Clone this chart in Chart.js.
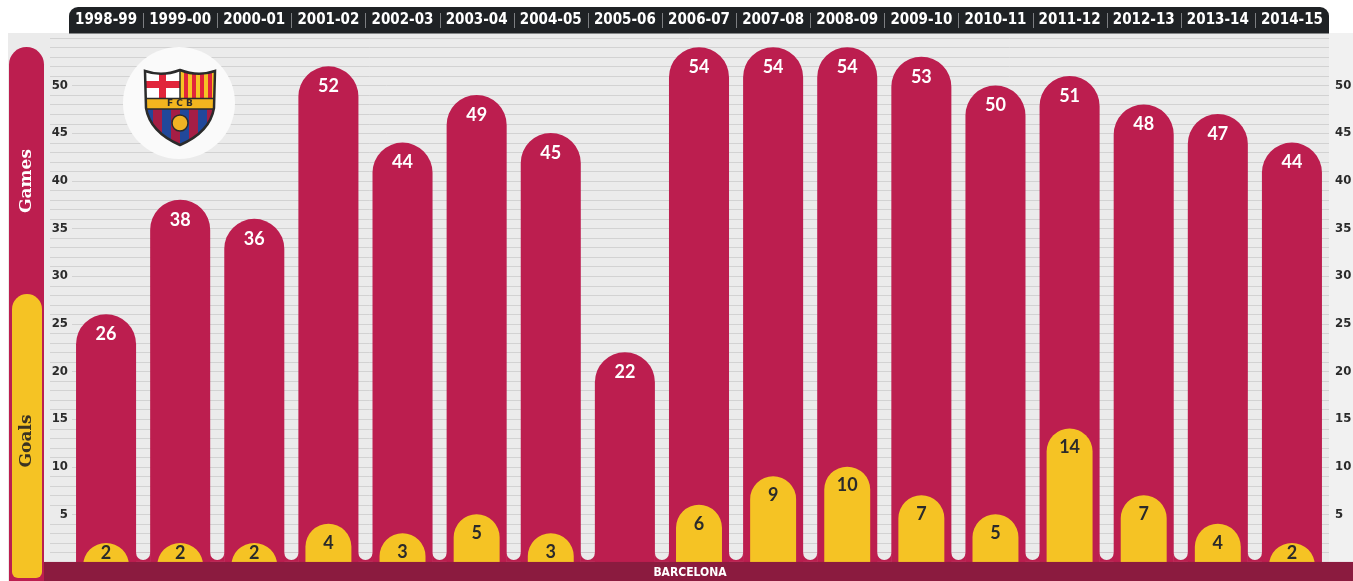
<!DOCTYPE html>
<html>
<head>
<meta charset="utf-8">
<title>Messi - Barcelona games and goals</title>
<script src="https://cdn.jsdelivr.net/npm/chart.js@4.4.1/dist/chart.umd.min.js"></script>
<style>
    html, body { margin: 0; padding: 0; background: #fff; overflow: hidden; }
    #wrap { width: 1353px; height: 581px; position: relative; }
</style>
</head>
<body>
<div id="wrap"><canvas id="careerChart"></canvas></div>
<script>
// --- data ---
const seasons = ['1998-99', '1999-00', '2000-01', '2001-02', '2002-03', '2003-04', '2004-05', '2005-06', '2006-07',
                 '2007-08', '2008-09', '2009-10', '2010-11', '2011-12', '2012-13', '2013-14', '2014-15'];
const games = [26, 38, 36, 52, 44, 49, 45, 22, 54, 54, 54, 53, 50, 51, 48, 47, 44];
const goals = [2, 2, 2, 4, 3, 5, 3, null, 6, 9, 10, 7, 5, 14, 7, 4, 2];
const yTicks = [5, 10, 15, 20, 25, 30, 35, 40, 45, 50];

const maroon = '#bc1e4f';
const bandColor = '#8b1b3f';
const yellow = '#f5c324';
const headerColor = '#1f2225';
const bgGray = '#ebebeb';
const condensed = '"DejaVu Sans Condensed", "Liberation Sans Narrow", sans-serif';

// simple FC Barcelona crest
function drawCrest(ctx, cx, top) {
    const s = new Path2D();
    s.moveTo(cx - 35, top + 1);
    s.quadraticCurveTo(cx - 18, top + 7, cx, top);
    s.quadraticCurveTo(cx + 18, top + 7, cx + 35, top + 1);
    s.lineTo(cx + 34, top + 38);
    s.quadraticCurveTo(cx + 30, top + 62, cx, top + 75);
    s.quadraticCurveTo(cx - 30, top + 62, cx - 34, top + 38);
    s.closePath();

    ctx.save();
    ctx.clip(s);
    ctx.fillStyle = '#fff';
    ctx.fillRect(cx - 36, top - 2, 36, 31);
    ctx.fillStyle = '#e1253b';
    ctx.fillRect(cx - 21, top - 2, 7, 31);
    ctx.fillRect(cx - 36, top + 11, 36, 7);
    ctx.fillStyle = yellow;
    ctx.fillRect(cx, top - 2, 36, 31);
    ctx.fillStyle = '#e1253b';
    for (let k = 0; k < 4; k++) ctx.fillRect(cx + 4 + k * 8, top - 2, 4, 31);
    ctx.fillStyle = '#f3b51f';
    ctx.fillRect(cx - 36, top + 28, 72, 11);
    for (let k = 0; k < 8; k++) {
        ctx.fillStyle = k % 2 ? '#a51e45' : '#21489a';
        ctx.fillRect(cx - 36 + k * 9, top + 39, 9, 40);
    }
    ctx.fillStyle = '#f0b324';
    ctx.beginPath();
    ctx.arc(cx, top + 53, 8, 0, Math.PI * 2);
    ctx.fill();
    ctx.strokeStyle = '#2b2b2b';
    ctx.lineWidth = 1.5;
    ctx.beginPath();
    ctx.moveTo(cx, top); ctx.lineTo(cx, top + 28);
    ctx.moveTo(cx - 36, top + 28.5); ctx.lineTo(cx + 36, top + 28.5);
    ctx.moveTo(cx - 36, top + 39); ctx.lineTo(cx + 36, top + 39);
    ctx.stroke();
    ctx.beginPath();
    ctx.arc(cx, top + 53, 8, 0, Math.PI * 2);
    ctx.stroke();
    ctx.restore();

    ctx.save();
    ctx.strokeStyle = '#2b2b2b';
    ctx.lineWidth = 2.5;
    ctx.stroke(s);
    ctx.fillStyle = '#2b2b2b';
    ctx.font = 'bold 9px "DejaVu Sans", sans-serif';
    ctx.textAlign = 'center';
    ctx.textBaseline = 'middle';
    ctx.fillText('F C B', cx, top + 34);
    ctx.restore();
}

// background, header strip and the fine grid
const backdropPlugin = {
    id: 'backdrop',
    beforeDraw(chart) {
        const { ctx, chartArea: { left, right }, scales: { y } } = chart;
        ctx.save();
        ctx.fillStyle = '#fff';
        ctx.fillRect(0, 0, chart.width, chart.height);
        ctx.fillStyle = bgGray;
        ctx.fillRect(8, 33, chart.width - 8, chart.height - 33);
        ctx.fillStyle = '#f1f1f1';
        ctx.fillRect(right, 33, chart.width - right, chart.height - 33);

        ctx.fillStyle = headerColor;
        ctx.beginPath();
        ctx.roundRect(left, 7, right - left, 26.5, [9, 9, 0, 0]);
        ctx.fill();

        ctx.strokeStyle = '#d2d2d2';
        ctx.lineWidth = 1;
        for (let v = 0; v <= 55; v++) {
            const py = Math.round(y.getPixelForValue(v)) + 0.5;
            const x0 = yTicks.includes(v) ? 72 : 50;
            ctx.beginPath();
            ctx.moveTo(x0, py);
            ctx.lineTo(right, py);
            ctx.stroke();
        }
        ctx.restore();
    }
};

// left side legend pills and the club logo
const decorPlugin = {
    id: 'decor',
    beforeDatasetsDraw(chart) {
        const { ctx } = chart;
        ctx.save();
        ctx.fillStyle = maroon;
        ctx.beginPath();
        ctx.roundRect(9, 47, 35, 560, [17.5, 17.5, 0, 0]);
        ctx.fill();
        ctx.fillStyle = yellow;
        ctx.beginPath();
        ctx.roundRect(12, 294, 30, 284, [15, 15, 6, 6]);
        ctx.fill();

        ctx.textAlign = 'center';
        ctx.textBaseline = 'middle';
        ctx.font = 'bold 17px "DejaVu Serif", serif';
        ctx.save();
        ctx.translate(27, 181);
        ctx.rotate(-Math.PI / 2);
        ctx.fillStyle = '#fff';
        ctx.fillText('Games', 0, 0);
        ctx.restore();
        ctx.save();
        ctx.translate(27, 441);
        ctx.rotate(-Math.PI / 2);
        ctx.fillStyle = '#3a3322';
        ctx.fillText('Goals', 0, 0);
        ctx.restore();

        // logo
        ctx.fillStyle = '#fafafa';
        ctx.beginPath();
        ctx.arc(179, 103, 56, 0, Math.PI * 2);
        ctx.fill();
        ctx.restore();
        drawCrest(ctx, 180, 70);
    }
};

// bottom band, gap ends, value labels
const overlayPlugin = {
    id: 'overlay',
    afterDatasetsDraw(chart) {
        const { ctx, scales: { x, y } } = chart;
        const zero = y.getPixelForValue(0);
        ctx.save();

        // rounded ends of the gaps between the games bars
        for (let i = 0; i < seasons.length - 1; i++) {
            const bx = (x.getPixelForValue(i) + x.getPixelForValue(i + 1)) / 2;
            ctx.fillStyle = maroon;
            ctx.fillRect(bx - 7.5, zero - 9, 15, 9);
            ctx.fillStyle = bgGray;
            ctx.beginPath();
            ctx.arc(bx, zero - 9, 7, 0, Math.PI);
            ctx.fill();
        }

        ctx.fillStyle = bandColor;
        ctx.fillRect(44, zero, chart.width - 44, chart.height - zero);
        ctx.fillStyle = '#fff';
        ctx.font = 'bold 12px ' + condensed;
        ctx.textAlign = 'center';
        ctx.textBaseline = 'middle';
        ctx.fillText('BARCELONA', 690, 573);

        ctx.font = 'bold 18px Lato, "Open Sans", sans-serif';
        const gamesMeta = chart.getDatasetMeta(1);
        gamesMeta.data.forEach((bar, i) => {
            if (games[i] == null) return;
            ctx.fillStyle = '#fff';
            ctx.fillText(games[i], bar.x, bar.y + 20);
        });
        const goalsMeta = chart.getDatasetMeta(0);
        goalsMeta.data.forEach((bar, i) => {
            if (goals[i] == null) return;
            ctx.fillStyle = '#2b2b2b';
            ctx.fillText(goals[i], bar.x, Math.min(bar.y + 19, zero - 9));
        });
        ctx.restore();
    },
    afterDraw(chart) {
        // separators in the season header
        const { ctx, scales: { x } } = chart;
        ctx.save();
        ctx.strokeStyle = '#7d7f82';
        ctx.lineWidth = 1;
        for (let i = 0; i < seasons.length - 1; i++) {
            const bx = Math.round((x.getPixelForValue(i) + x.getPixelForValue(i + 1)) / 2) + 0.5;
            ctx.beginPath();
            ctx.moveTo(bx, 13);
            ctx.lineTo(bx, 28);
            ctx.stroke();
        }
        ctx.restore();
    }
};

const sideTicks = (padding) => ({
    stepSize: 1,
    autoSkip: false,
    padding: padding,
    color: '#2b2b2b',
    font: { family: condensed, weight: 'bold', size: 13 },
    callback: (v) => yTicks.includes(v) ? v : ''
});

// stop the axes from asking for extra room around their first/last labels
function noPadding(scale) {
    scale.paddingTop = 0;
    scale.paddingBottom = 0;
    scale.paddingLeft = 0;
    scale.paddingRight = 0;
}

const ctx = document.getElementById('careerChart');
new Chart(ctx, {
    type: 'bar',
    data: {
        labels: seasons,
        datasets: [
            {
                label: 'Goals',
                data: goals,
                backgroundColor: yellow,
                barPercentage: 0.62,
                categoryPercentage: 1,
                borderRadius: { topLeft: 40, topRight: 40 },
                borderSkipped: 'bottom',
                base: -6,
                grouped: false,
                order: 1
            },
            {
                label: 'Games',
                data: games,
                backgroundColor: maroon,
                barPercentage: 0.81,
                categoryPercentage: 1,
                borderRadius: { topLeft: 40, topRight: 40 },
                borderSkipped: 'bottom',
                base: -6,
                grouped: false,
                order: 2
            }
        ]
    },
    options: {
        responsive: true,
        maintainAspectRatio: false,
        animation: false,
        layout: { padding: 0 },
        plugins: {
            legend: { display: false },
            title: { display: false },
            tooltip: { enabled: false }
        },
        scales: {
            x: {
                position: 'top',
                grid: { display: false, drawTicks: false },
                border: { display: false },
                ticks: {
                    color: '#fff',
                    padding: 4,
                    maxRotation: 0,
                    autoSkip: false,
                    font: { family: condensed, weight: 'bold', size: 15 }
                },
                afterFit(scale) { scale.height = 33; noPadding(scale); }
            },
            y: {
                position: 'left',
                min: -2,
                max: 55.5,
                grid: { display: false, drawTicks: false },
                border: { display: false },
                ticks: sideTicks(1),
                afterFit(scale) { scale.width = 69; noPadding(scale); }
            },
            y2: {
                position: 'right',
                min: -2,
                max: 55.5,
                grid: { display: false, drawTicks: false },
                border: { display: false },
                ticks: sideTicks(6),
                afterFit(scale) { scale.width = 24; noPadding(scale); }
            }
        }
    },
    plugins: [backdropPlugin, decorPlugin, overlayPlugin]
});
</script>
</body>
</html>
